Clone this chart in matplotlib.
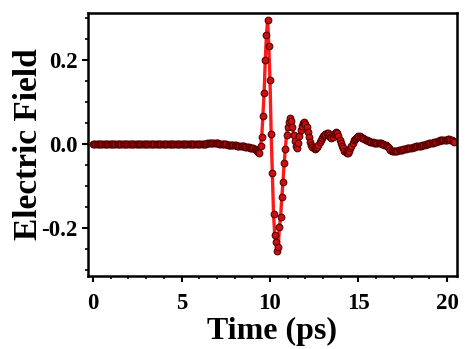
import matplotlib
matplotlib.use("Agg")
import matplotlib.pyplot as plt
from matplotlib.ticker import MultipleLocator
import numpy as np

# sampled every 1/15 ps, one row per picosecond
field = [
    # 0 ps
    0.000, 0.000, 0.000, 0.000, 0.000, 0.000, 0.000, 0.000, 0.000, 0.000, 0.000, 0.000, 0.000, 0.000, 0.000,
    # 1 ps
    0.000, 0.000, 0.000, 0.000, 0.000, 0.000, 0.000, 0.000, 0.000, 0.000, 0.000, 0.000, 0.000, 0.000, 0.000,
    # 2 ps
    0.000, 0.000, 0.000, 0.000, 0.000, 0.000, 0.000, 0.000, 0.000, 0.000, 0.000, 0.000, 0.000, 0.000, 0.000,
    # 3 ps
    0.000, 0.000, 0.000, 0.000, 0.000, 0.000, 0.000, 0.000, 0.000, 0.000, 0.000, 0.000, 0.000, 0.000, 0.000,
    # 4 ps
    0.000, 0.000, 0.000, 0.000, 0.000, 0.000, 0.000, 0.000, 0.000, 0.000, 0.000, 0.000, 0.000, 0.000, 0.000,
    # 5 ps
    0.000, 0.000, 0.000, 0.000, 0.000, 0.000, 0.000, 0.000, 0.000, 0.000, 0.000, 0.000, 0.000, 0.000, 0.000,
    # 6 ps
    0.000, 0.000, 0.000, 0.000, 0.000, 0.000, 0.000, 0.001, 0.001, 0.002, 0.003, 0.002, 0.001, 0.001, 0.001,
    # 7 ps
    0.001, 0.001, 0.000, 0.000, 0.000, 0.000, -0.001, -0.001, -0.001, -0.002, -0.002, -0.002, -0.002, -0.003, -0.003,
    # 8 ps
    -0.003, -0.003, -0.004, -0.004, -0.004, -0.005, -0.005, -0.006, -0.006, -0.007, -0.007, -0.008, -0.008, -0.009, -0.010,
    # 9 ps
    -0.010, -0.011, -0.012, -0.014, -0.016, -0.019, -0.022, -0.006, 0.017, 0.067, 0.120, 0.200, 0.260, 0.295, 0.232,
    # 10 ps
    0.152, 0.024, -0.070, -0.167, -0.217, -0.235, -0.256, -0.246, -0.198, -0.175, -0.127, -0.091, -0.046, -0.013, 0.021,
    # 11 ps
    0.041, 0.051, 0.061, 0.055, 0.040, 0.022, 0.006, -0.006, -0.010, 0.002, 0.018, 0.033, 0.043, 0.049, 0.051,
    # 12 ps
    0.048, 0.040, 0.029, 0.016, 0.005, -0.003, -0.008, -0.011, -0.012, -0.011, -0.007, -0.002, 0.004, 0.009, 0.014,
    # 13 ps
    0.018, 0.021, 0.023, 0.025, 0.025, 0.022, 0.017, 0.014, 0.017, 0.023, 0.027, 0.028, 0.025, 0.018, 0.010,
    # 14 ps
    0.003, -0.004, -0.010, -0.016, -0.020, -0.022, -0.021, -0.017, -0.011, -0.004, 0.003, 0.008, 0.012, 0.015, 0.017,
    # 15 ps
    0.018, 0.018, 0.017, 0.015, 0.013, 0.011, 0.010, 0.008, 0.007, 0.006, 0.005, 0.004, 0.004, 0.003, 0.003,
    # 16 ps
    0.003, 0.002, 0.002, 0.002, 0.001, 0.000, -0.001, -0.002, -0.003, -0.005, -0.008, -0.011, -0.014, -0.016, -0.017,
    # 17 ps
    -0.017, -0.017, -0.016, -0.016, -0.015, -0.015, -0.014, -0.014, -0.013, -0.013, -0.012, -0.011, -0.011, -0.010, -0.010,
    # 18 ps
    -0.009, -0.008, -0.008, -0.007, -0.006, -0.005, -0.005, -0.004, -0.004, -0.003, -0.002, -0.002, -0.001, 0.000, 0.000,
    # 19 ps
    0.001, 0.002, 0.002, 0.003, 0.004, 0.005, 0.005, 0.006, 0.007, 0.008, 0.008, 0.009, 0.009, 0.010, 0.010,
    # 20 ps
    0.010, 0.011, 0.011, 0.010, 0.008, 0.006, 0.004,
]
time_ps = np.arange(len(field)) / 15.0

xticks = [0, 5, 10, 15, 20]
yticks = [-0.2, 0.0, 0.2]

plt.rcParams["font.family"] = ["Liberation Serif", "DejaVu Serif"]
plt.rcParams["font.weight"] = "bold"

fig = plt.figure(figsize=(4.71, 3.49), dpi=100)
ax = fig.add_axes([0.187, 0.209, 0.783, 0.754])

ax.plot(time_ps, field, color="#ff1a1a", lw=2.4, marker="o", ms=4.8,
        mfc="#cc1010", mec="#580000", mew=0.8)

ax.set_xlim(-0.28, 20.56)
ax.set_ylim(-0.315, 0.312)
ax.set_xticks(xticks)
ax.set_yticks(yticks)
ax.set_yticklabels(["-0.2", "0.0", "0.2"])
ax.xaxis.set_minor_locator(MultipleLocator(1))
ax.yaxis.set_minor_locator(MultipleLocator(0.05))

for s in ax.spines.values():
    s.set_linewidth(1.8)
ax.tick_params(which="major", direction="out", length=4.5, width=1.5,
               labelsize=16.5, pad=3)
ax.tick_params(which="minor", direction="out", length=2.5, width=1.2)
ax.tick_params(axis="x", which="major", pad=8)

ax.set_xlabel("Time (ps)", fontsize=23, fontweight="bold", labelpad=2)
ax.set_ylabel("Electric Field", fontsize=24, fontweight="bold", labelpad=-2)

fig.savefig("out.png", dpi=100)
